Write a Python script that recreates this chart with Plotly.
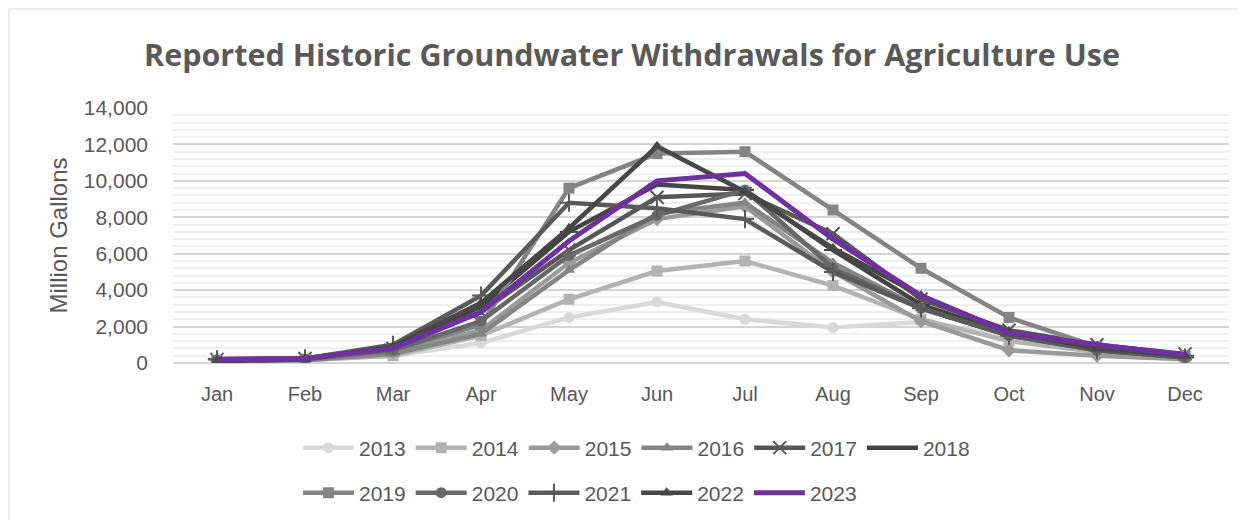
import plotly.graph_objects as go

months = ["Jan", "Feb", "Mar", "Apr", "May", "Jun", "Jul", "Aug", "Sep", "Oct", "Nov", "Dec"]

y2013 = [150, 200, 400, 1100, 2500, 3350, 2400, 1950, 2250, 1500, 700, 300]
y2014 = [100, 150, 400, 1500, 3500, 5050, 5600, 4250, 2400, 1200, 600, 250]
y2015 = [150, 200, 600, 1800, 5500, 7900, 8600, 5000, 2300, 700, 400, 200]
y2016 = [100, 150, 500, 1600, 5100, 8200, 8800, 5500, 3000, 1500, 700, 300]
y2017 = [200, 250, 800, 2800, 6200, 9100, 9300, 7100, 3500, 1800, 1000, 500]
y2018 = [200, 250, 900, 3100, 7200, 9800, 9500, 6200, 3200, 1600, 800, 400]
y2019 = [150, 200, 700, 2100, 9600, 11500, 11600, 8400, 5200, 2500, 900, 400]
y2020 = [150, 200, 700, 2300, 5900, 8100, 9500, 5200, 3000, 1500, 700, 300]
y2021 = [200, 250, 1000, 3700, 8800, 8500, 7900, 5000, 3000, 1500, 700, 300]
y2022 = [100, 200, 900, 3300, 7400, 11900, 9400, 6300, 3700, 1700, 800, 400]
y2023 = [200, 250, 800, 2800, 6700, 10000, 10400, 6800, 3700, 1650, 1000, 450]

years = ["2013", "2014", "2015", "2016", "2017", "2018",
         "2019", "2020", "2021", "2022", "2023"]
series = [y2013, y2014, y2015, y2016, y2017, y2018, y2019, y2020, y2021, y2022, y2023]
colors = ["#D9D9D9", "#B3B3B3", "#9A9A9A", "#858585", "#575757", "#444444",
          "#848484", "#686868", "#5A5A5A", "#474747", "#7030A0"]
symbols = ["circle", "square", "diamond", "triangle-up", "x-thin-open", "line-ew-open",
           "square", "circle", "cross-thin-open", "triangle-up", None]
legends = ["legend"] * 6 + ["legend2"] * 5

# figure is rendered inside an 8px page margin, so work in figure coordinates
W, H = 1238, 512
PL, PR, PT, PB = 165, 1221, 100, 355
PW, PH = PR - PL, PB - PT

def px_x(x):
    return (x - PL) / PW

def px_y(y):
    return (PB - y) / PH

fig = go.Figure()
for yr, vals, col, sym, lg in zip(years, series, colors, symbols, legends):
    if sym is None:
        mode = "lines"
        marker = dict()
        width = 5
    else:
        mode = "lines+markers"
        thin = sym.endswith("-open")
        marker = dict(symbol=sym, size=11 if not thin else 13, color=col,
                      line=dict(color=col, width=2 if thin else 0))
        width = 4.5
    fig.add_trace(go.Scatter(
        x=months, y=vals, name=yr, mode=mode,
        line=dict(color=col, width=width),
        marker=marker, legend=lg,
    ))

legend_font = dict(family="Liberation Sans", size=21, color="#595959")

fig.update_layout(
    width=W, height=H,
    paper_bgcolor="white", plot_bgcolor="white",
    margin=dict(l=PL, r=W - PR, t=PT, b=H - PB, autoexpand=False),
    title=dict(
        text="Reported Historic Groundwater Withdrawals for Agriculture Use",
        x=624 / W, xref="container", xanchor="center",
        y=1 - 47 / H, yref="container", yanchor="middle",
        font=dict(family="Open Sans", size=30.5, color="#595959", weight="bold"),
    ),
    font=dict(family="Liberation Sans", color="#595959"),
    showlegend=True,
    legend=dict(
        orientation="h", x=px_x(290), xanchor="left",
        y=px_y(440), yanchor="middle",
        font=legend_font, itemwidth=51, bgcolor="rgba(0,0,0,0)",
    ),
    legend2=dict(
        orientation="h", x=px_x(290), xanchor="left",
        y=px_y(485), yanchor="middle",
        font=legend_font, itemwidth=51, bgcolor="rgba(0,0,0,0)",
    ),
    xaxis=dict(
        type="category", range=[-0.5, 11.5],
        showgrid=False, showline=False, zeroline=False, ticks="",
        tickfont=dict(family="Liberation Sans", size=20, color="#595959"),
        ticklabelstandoff=17,
    ),
    yaxis=dict(
        range=[0, 14000], dtick=2000, tickformat=",",
        showgrid=True, gridcolor="#D4D4D4", gridwidth=1.5,
        zeroline=True, zerolinecolor="#D4D4D4", zerolinewidth=1.5,
        showline=False, ticks="",
        tickfont=dict(family="Liberation Sans", size=21, color="#595959"),
        ticklabelstandoff=24,
        title=dict(text="Million Gallons", standoff=9,
                   font=dict(family="Liberation Sans", size=24, color="#595959")),
        minor=dict(dtick=400, showgrid=True, gridcolor="#EFEFEF", gridwidth=1.5),
    ),
    shapes=[dict(
        type="rect", xref="paper", yref="paper",
        x0=px_x(1), x1=px_x(1232),
        y0=px_y(560), y1=px_y(1),
        line=dict(color="#D9D9D9", width=1), fillcolor="rgba(0,0,0,0)", layer="below",
    )],
)

fig.write_html("out.html")
